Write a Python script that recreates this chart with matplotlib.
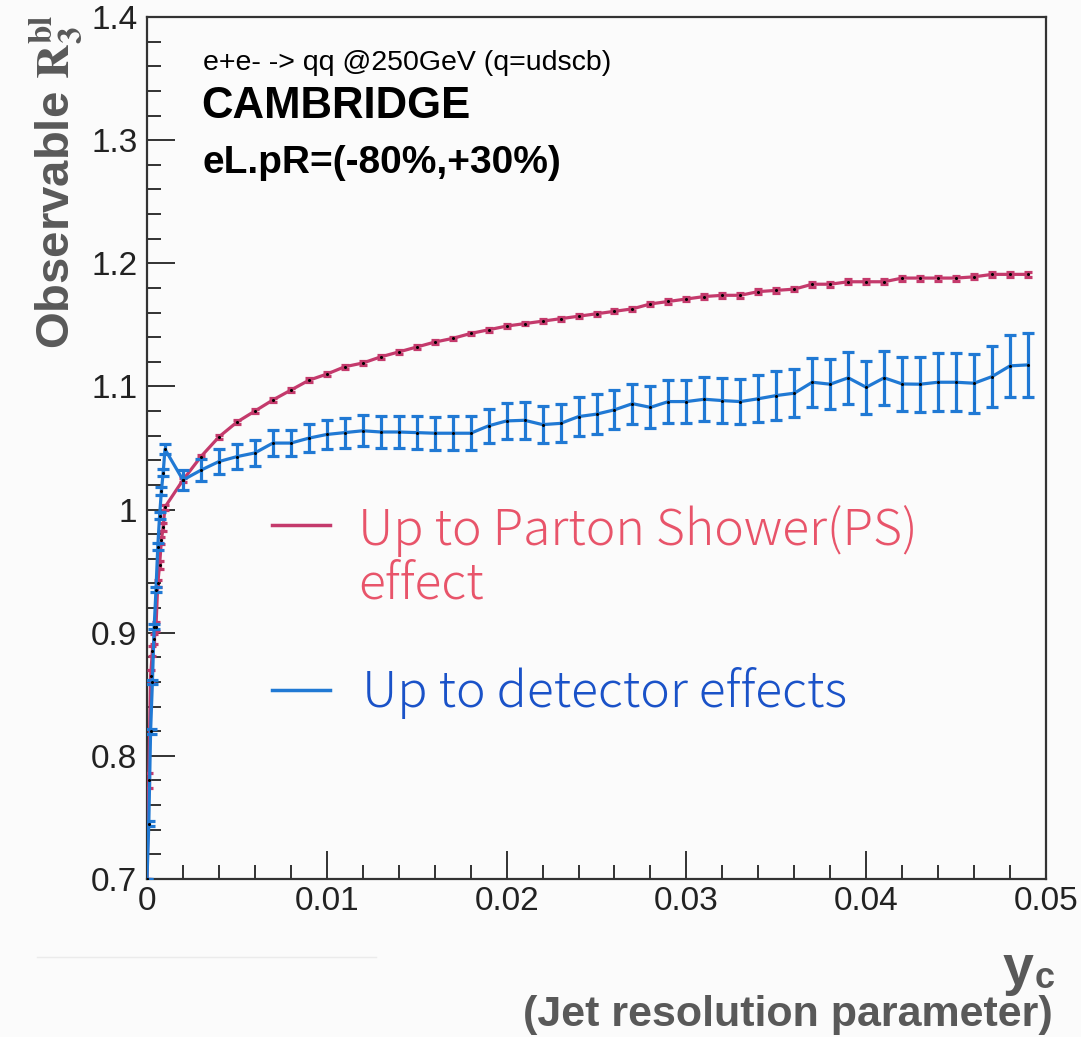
import matplotlib
matplotlib.use("Agg")
import matplotlib.pyplot as plt
from matplotlib import font_manager
from matplotlib.lines import Line2D

# y_c bins (fine binning below 0.001, then steps of 0.001)
yc = [0.0, 0.0001, 0.0002, 0.0003, 0.0004, 0.0005, 0.0006, 0.0007, 0.0008, 0.0009, 0.001,
      0.002, 0.003, 0.004, 0.005, 0.006, 0.007, 0.008, 0.009, 0.010, 0.011,
      0.012, 0.013, 0.014, 0.015, 0.016, 0.017, 0.018, 0.019, 0.020, 0.021,
      0.022, 0.023, 0.024, 0.025, 0.026, 0.027, 0.028, 0.029, 0.030, 0.031,
      0.032, 0.033, 0.034, 0.035, 0.036, 0.037, 0.038, 0.039, 0.040, 0.041,
      0.042, 0.043, 0.044, 0.045, 0.046, 0.047, 0.048, 0.049]

ps_vals = [0.70, 0.78, 0.865, 0.885, 0.895, 0.905, 0.94, 0.955, 0.975, 0.986, 1.002,
           1.024, 1.043, 1.059, 1.071, 1.080, 1.089, 1.097, 1.105, 1.110, 1.116,
           1.119, 1.124, 1.128, 1.132, 1.136, 1.139, 1.143, 1.146, 1.149, 1.151,
           1.153, 1.155, 1.157, 1.159, 1.161, 1.163, 1.167, 1.169, 1.171, 1.173,
           1.174, 1.174, 1.177, 1.178, 1.179, 1.183, 1.183, 1.185, 1.185, 1.185,
           1.188, 1.188, 1.188, 1.188, 1.189, 1.191, 1.191, 1.191]
ps_err = [0.0, 0.006, 0.005, 0.004, 0.004, 0.004, 0.003, 0.003, 0.003, 0.003, 0.002,
          0.0015, 0.0015, 0.0015, 0.0015, 0.0015, 0.0015, 0.0015, 0.0015, 0.0015, 0.0015,
          0.0015, 0.0015, 0.0015, 0.0015, 0.0015, 0.0015, 0.0015, 0.0015, 0.0015, 0.0015,
          0.0016, 0.0016, 0.0016, 0.0016, 0.0016, 0.0016, 0.0017, 0.0017, 0.0017, 0.0017,
          0.0018, 0.0018, 0.0018, 0.0018, 0.0018, 0.0019, 0.0019, 0.0019, 0.0019, 0.0019,
          0.002, 0.002, 0.002, 0.002, 0.002, 0.002, 0.002, 0.002]

det_vals = [0.70, 0.745, 0.82, 0.86, 0.905, 0.935, 0.97, 0.995, 1.015, 1.030, 1.049,
            1.024, 1.032, 1.039, 1.043, 1.046, 1.054, 1.054, 1.058, 1.061, 1.0625,
            1.064, 1.063, 1.063, 1.0625, 1.062, 1.062, 1.062, 1.068, 1.072, 1.0725,
            1.069, 1.070, 1.0755, 1.0775, 1.081, 1.086, 1.083, 1.0877, 1.0877, 1.0896,
            1.0885, 1.0877, 1.090, 1.0926, 1.0945, 1.1034, 1.1018, 1.107, 1.0993, 1.107,
            1.102, 1.1018, 1.1034, 1.1034, 1.1026, 1.108, 1.1167, 1.1175]
det_err = [0.0, 0.002, 0.002, 0.002, 0.002, 0.002, 0.003, 0.003, 0.003, 0.003, 0.004,
           0.0085, 0.009, 0.0098, 0.0102, 0.0104, 0.0104, 0.0106, 0.0115, 0.012, 0.0122,
           0.0126, 0.013, 0.0132, 0.0134, 0.0135, 0.0136, 0.0138, 0.014, 0.0148, 0.015,
           0.015, 0.0155, 0.016, 0.0162, 0.0159, 0.0163, 0.017, 0.0172, 0.0172, 0.018,
           0.018, 0.0185, 0.019, 0.0197, 0.0197, 0.020, 0.0203, 0.0213, 0.0213, 0.022,
           0.022, 0.0225, 0.0237, 0.0237, 0.024, 0.0247, 0.025, 0.0257]

xticks = [0.0, 0.01, 0.02, 0.03, 0.04, 0.05]
xtick_labels = ["0", "0.01", "0.02", "0.03", "0.04", "0.05"]
yticks = [0.7, 0.8, 0.9, 1.0, 1.1, 1.2, 1.3, 1.4]
ytick_labels = ["0.7", "0.8", "0.9", "1", "1.1", "1.2", "1.3", "1.4"]

red = "#c43a6c"
blue = "#2079d4"
gray = "#595959"
bg = "#fbfbfb"

installed = {f.name for f in font_manager.fontManager.ttflist}
narrow = "Liberation Sans Narrow" if "Liberation Sans Narrow" in installed else "Liberation Sans"

plt.rcParams["font.family"] = ["Liberation Sans", "DejaVu Sans"]
plt.rcParams["mathtext.fontset"] = "stix"

W, H = 1081, 1037
fig = plt.figure(figsize=(W / 100, H / 100), dpi=100, facecolor=bg)
ax = fig.add_axes([147 / W, 1 - 879 / H, (1046 - 147) / W, (879 - 17) / H])
ax.set_facecolor(bg)

ax.errorbar(yc, ps_vals, yerr=ps_err, color=red, lw=2.3, elinewidth=2.3,
            capsize=3, capthick=2.3, zorder=3)
ax.errorbar(yc, det_vals, yerr=det_err, color=blue, lw=2.3, elinewidth=2.3,
            capsize=4, capthick=2.3, zorder=4)
ax.plot(yc, ps_vals, ls="none", marker="o", ms=1.2, color="black", zorder=5)
ax.plot(yc, det_vals, ls="none", marker="o", ms=1.2, color="black", zorder=5)

ax.set_xlim(0, 0.05)
ax.set_ylim(0.7, 1.4)
ax.set_xticks(xticks)
ax.set_xticklabels(xtick_labels)
ax.set_yticks(yticks)
ax.set_yticklabels(ytick_labels)
ax.set_xticks([v / 1000 for v in range(0, 51, 2)], minor=True)
ax.set_yticks([0.7 + v * 0.02 for v in range(36)], minor=True)
ax.tick_params(which="major", direction="in", length=20, width=1.3, labelsize=24,
               top=False, right=False, colors="#222222")
ax.tick_params(which="minor", direction="in", length=10, width=1.3,
               top=False, right=False, colors="#222222")
ax.tick_params(axis="y", pad=7)
ax.tick_params(axis="x", pad=5)
for s in ax.spines.values():
    s.set_linewidth(1.6)
    s.set_color("#333333")

# header texts
fig.text(203 / W, 1 - 63 / H, "e+e- -> qq @250GeV (q=udscb)", fontsize=20.5,
         va="center", ha="left")
fig.text(201 / W, 1 - 107 / H, "CAMBRIDGE", fontsize=31.5, fontweight="bold",
         va="center", ha="left")
fig.text(202 / W, 1 - 163 / H, "eL.pR=(-80%,+30%)", fontsize=28, fontweight="bold",
         va="center", ha="left")

# legend
cjk = ["Noto Sans CJK JP", "DejaVu Sans"]
fig.add_artist(Line2D([272 / W, 330 / W], [1 - 525 / H, 1 - 525 / H], color=red, lw=2.5))
fig.add_artist(Line2D([272 / W, 330 / W], [1 - 690 / H, 1 - 690 / H], color=blue, lw=2.5))
fig.text(358 / W, 1 - 531 / H, "Up to Parton Shower(PS)", family=cjk, fontweight="light",
         fontsize=36, color="#e8546a", va="center", ha="left")
fig.text(358 / W, 1 - 585 / H, "effect", family=cjk, fontweight="light",
         fontsize=36, color="#e8546a", va="center", ha="left")
fig.text(362 / W, 1 - 693 / H, "Up to detector effects", family=cjk, fontweight="light",
         fontsize=36, color="#1a52c8", va="center", ha="left")

# axis titles
fig.text(57 / W, 1 - 182 / H, r"Observable $\mathbf{R}_{\mathbf{3}}^{\mathbf{bl}}$",
         rotation=90, fontsize=34, fontweight="bold", color=gray, va="center", ha="center")
fig.text(1033 / W, 1 - 970 / H, "y", fontsize=40, fontweight="bold", color=gray,
         va="center", ha="right", family=narrow)
fig.text(1035 / W, 1 - 978 / H, "c", fontsize=26, fontweight="bold", color=gray,
         va="center", ha="left", family=narrow)
fig.text(1053 / W, 1 - 1015 / H, "(Jet resolution parameter)", fontsize=31,
         fontweight="bold", color=gray, va="center", ha="right", family=narrow)

# faint separator line at bottom left
fig.add_artist(Line2D([37 / W, 376 / W], [1 - 957 / H, 1 - 957 / H], color="#ebebeb", lw=1))

fig.savefig("out.png", dpi=100, facecolor=bg)
